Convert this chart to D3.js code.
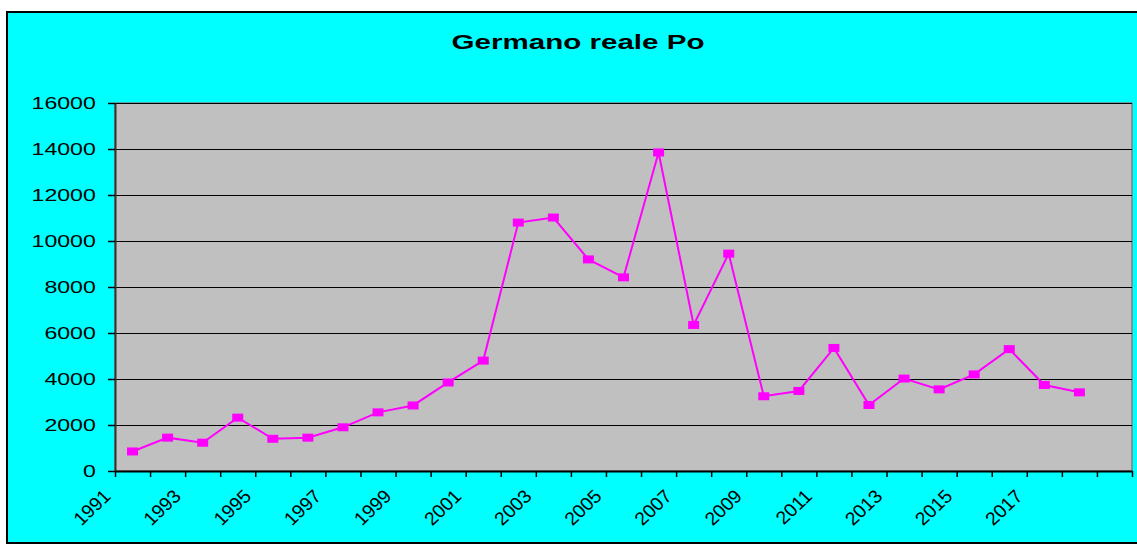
<!DOCTYPE html>
<html>
<head>
<meta charset="utf-8">
<script src="https://cdn.jsdelivr.net/npm/d3@7"></script>
<style>
  body { margin: 0; background: #fff; }
  text { font-family: "Liberation Sans", Arial, sans-serif; }
</style>
</head>
<body>
<div id="visualization"></div>
<script>
// data
const years = ["1991","1992","1993","1994","1995","1996","1997","1998","1999","2000",
  "2001","2002","2003","2004","2005","2006","2007","2008","2009","2010",
  "2011","2012","2013","2014","2015","2016","2017","2018"];
const counts = [850, 1450, 1230, 2320, 1400, 1450, 1900, 2550, 2850, 3850,
  4800, 10800, 11020, 9200, 8420, 13850, 6350, 9450, 3250, 3480,
  5350, 2870, 4020, 3550, 4200, 5300, 3740, 3420];
const categories = years.concat([""]); // one empty slot at the end, as in the original
const xTickLabels = ["1991","1993","1995","1997","1999","2001","2003","2005","2007","2009","2011","2013","2015","2017"];
const yTicks = [0, 2000, 4000, 6000, 8000, 10000, 12000, 14000, 16000];
const title = "Germano reale Po";

const width = 1137;
const height = 544;
const stretch = 1.42; // the original picture is widened horizontally
const plot = {left: 115, right: 1132, top: 103, bottom: 471};

const svg = d3.select("#visualization")
    .append("svg")
    .attr("width", width)
    .attr("height", height);

// chart area
svg.append("rect")
    .attr("x", 7).attr("y", 12)
    .attr("width", width + 20).attr("height", 531)
    .style("fill", "#00FFFF")
    .style("stroke", "#000")
    .style("stroke-width", 2);

svg.append("text")
    .attr("transform", "translate(578,49) scale(1.5,1)")
    .attr("text-anchor", "middle")
    .style("font-size", "19.7px")
    .style("font-weight", "bold")
    .text(title);

const x = d3.scaleBand().domain(categories).range([plot.left, plot.right]);
const xEdge = d3.scaleLinear().domain([0, categories.length]).range([plot.left, plot.right]);
const y = d3.scaleLinear().domain([0, 16000]).range([plot.bottom, plot.top]);

svg.append("rect")
    .attr("x", plot.left).attr("y", plot.top)
    .attr("width", plot.right - plot.left).attr("height", plot.bottom - plot.top)
    .style("fill", "#C0C0C0")
    .style("stroke", "#808080")
    .style("stroke-width", 1.5);

// gridlines
svg.append("g")
    .selectAll("line")
    .data(yTicks.slice(1))
    .enter().append("line")
    .attr("x1", plot.left).attr("x2", plot.right)
    .attr("y1", (d) => y(d) + 0.5).attr("y2", (d) => y(d) + 0.5)
    .style("stroke", "#000")
    .style("stroke-width", 1);

// y axis
const yAxis = svg.append("g")
    .attr("transform", `translate(${plot.left},0)`)
    .call(d3.axisLeft(y).tickValues(yTicks).tickFormat(d3.format("d")).tickSize(7).tickSizeOuter(0));
yAxis.select(".domain").style("stroke", "#333").style("stroke-width", 2);
yAxis.selectAll(".tick line").style("stroke", "#000").style("stroke-width", 1.5);
yAxis.selectAll("text")
    .attr("x", -13.5)
    .attr("dy", "0.36em")
    .attr("transform", `scale(${stretch},1)`)
    .style("font-size", "16.3px")
    .style("fill", "#000");

// x axis
const xAxis = svg.append("g")
    .attr("transform", `translate(0,${plot.bottom})`)
    .call(d3.axisBottom(xEdge).tickValues(d3.range(categories.length + 1)).tickSize(6).tickSizeOuter(0).tickFormat(""));
xAxis.select(".domain").style("stroke", "#000").style("stroke-width", 2);
xAxis.selectAll(".tick line").style("stroke", "#000").style("stroke-width", 1.5);

svg.append("g")
    .selectAll("text")
    .data(xTickLabels)
    .enter().append("text")
    .attr("transform", (d) => `translate(${x(d) - 3},497.5) scale(1.05,1) rotate(-45)`)
    .attr("text-anchor", "end")
    .style("font-size", "18.5px")
    .text((d) => d);

// series
const points = years.map((yr, i) => ({year: yr, value: counts[i]}));

svg.append("path")
    .datum(points)
    .attr("d", d3.line()
        .x((d) => x(d.year) + x.bandwidth() / 2)
        .y((d) => y(d.value)))
    .style("fill", "none")
    .style("stroke", "#FF00FF")
    .style("stroke-width", 2);

svg.selectAll(".marker")
    .data(points)
    .enter().append("rect")
    .attr("class", "marker")
    .attr("x", (d) => x(d.year) + x.bandwidth() / 2 - 5.5)
    .attr("y", (d) => y(d.value) - 4)
    .attr("width", 11)
    .attr("height", 8)
    .style("fill", "#FF00FF");
</script>
</body>
</html>
